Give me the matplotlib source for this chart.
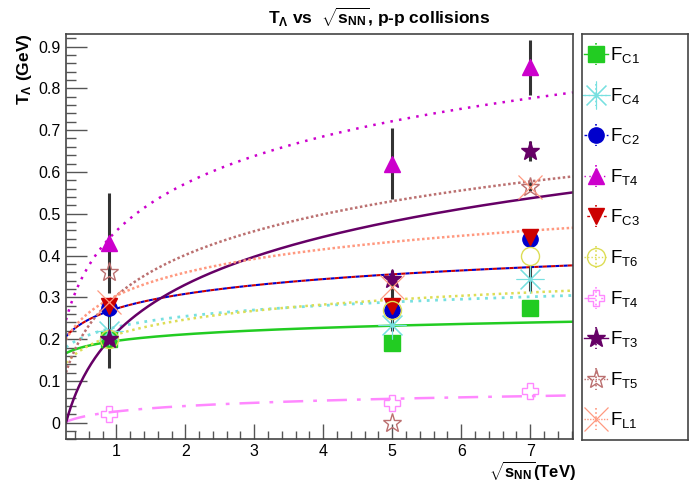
import numpy as np
import matplotlib
matplotlib.use("Agg")
import matplotlib.pyplot as plt
from matplotlib.lines import Line2D

plt.rcParams["font.family"] = ["Liberation Sans", "DejaVu Sans"]
plt.rcParams["mathtext.fontset"] = "custom"
plt.rcParams["mathtext.rm"] = "Liberation Sans"
plt.rcParams["mathtext.it"] = "Liberation Sans"
plt.rcParams["mathtext.bf"] = "Liberation Sans:bold"

# sqrt(s_NN) in TeV
energies = [0.9, 5.0, 7.0]

# temperature parameter T_Lambda (GeV) per fit model
fc1 = [0.200, 0.190, 0.275]
fc4 = [0.220, 0.235, 0.345]
fc2 = [0.275, 0.270, 0.440]
ft4 = [0.430, 0.620, 0.850]
fc3 = [0.280, 0.280, 0.445]
ft6 = [0.200, 0.270, 0.400]
ft4b = [0.020, 0.048, 0.075]
ft3 = [0.200, 0.345, 0.650]
ft5 = [0.360, 0.000, 0.565]
fl1 = [0.290, 0.325, 0.565]

ft4_err = [0.120, 0.085, 0.065]
ft3_err = [0.070, 0.015, 0.025]
fl1_err = [0.000, 0.040, 0.010]
fc4_err = [0.000, 0.015, 0.030]

# log fits: T = a + b*ln(sqrt(s))
fit_a = [0.196, 0.229, 0.273, 0.459, 0.273, 0.211, 0.027, 0.216, 0.304, 0.304]
fit_b = [0.0225, 0.0372, 0.051, 0.163, 0.051, 0.0518, 0.0189, 0.165, 0.1405, 0.080]

labels = [r"$\mathrm{F_{C1}}$", r"$\mathrm{F_{C4}}$", r"$\mathrm{F_{C2}}$", r"$\mathrm{F_{T4}}$",
          r"$\mathrm{F_{C3}}$", r"$\mathrm{F_{T6}}$", r"$\mathrm{F_{T4}}$", r"$\mathrm{F_{T3}}$",
          r"$\mathrm{F_{T5}}$", r"$\mathrm{F_{L1}}$"]

values = [fc1, fc4, fc2, ft4, fc3, ft6, ft4b, ft3, ft5, fl1]
errors = [None, fc4_err, None, ft4_err, None, None, None, ft3_err, None, fl1_err]

colors = ["#22cc22", "#77e0e0", "#0000cc", "#cc00cc", "#cc0000",
          "#dddd55", "#ff88ff", "#660066", "#bb7070", "#ff9980"]
markers = ["s", (8, 2, 0), "o", "^", "v", "o", "P", "*", "*", "x"]
msizes = [11, 20, 11, 12, 12, 13, 12, 14, 14, 17]
filled = [True, True, True, True, True, False, False, True, False, True]
mew = [1, 0.8, 1, 1, 1, 1, 1, 1, 1, 0.9]
linestyles = ["-", (0, (1, 2)), (0, (2, 2)), (0, (1, 2.5)), (2, (2, 2)),
              (0, (1, 1.5)), (0, (8, 4, 1.5, 4)), "-", (0, (1, 1)), (0, (1, 1))]
linewidths = [1.8, 2.0, 1.5, 1.8, 1.5, 1.8, 1.8, 1.8, 1.8, 1.8]

fig = plt.figure(figsize=(6.99, 4.82), dpi=100)
ax = fig.add_axes([0.0944, 0.0882, 0.7253, 0.8413])

x_lo, x_hi = 0.27, 7.62
xs = np.linspace(x_lo, x_hi, 400)

for i in range(len(values)):
    ax.plot(xs, fit_a[i] + fit_b[i] * np.log(xs), color=colors[i],
            ls=linestyles[i], lw=linewidths[i], zorder=2)

for i in range(len(values)):
    if errors[i] is not None:
        ax.errorbar(energies, values[i], yerr=errors[i], fmt="none",
                    ecolor="#333333", elinewidth=2.2, capsize=0, zorder=3)
    fc = colors[i] if filled[i] else "none"
    ax.plot(energies, values[i], ls="none", marker=markers[i], ms=msizes[i],
            mfc=fc, mec=colors[i], mew=mew[i], zorder=4 + i)

ax.set_xlim(x_lo, x_hi)
ax.set_ylim(-0.04, 0.93)
ax.set_xticks(range(1, 8))
ax.set_xticks(np.arange(0.4, 7.61, 0.2), minor=True)
ax.set_yticks(np.arange(0, 0.91, 0.1))
ax.set_yticks(np.arange(-0.04, 0.93, 0.02), minor=True)
ax.set_yticklabels(["0"] + [f"{v:.1f}" for v in np.arange(0.1, 0.91, 0.1)])
ax.tick_params(axis="both", which="both", direction="in", labelsize=11.5,
               color="#555555", top=False, right=False)
ax.tick_params(axis="x", which="major", length=11, width=1, pad=3)
ax.tick_params(axis="x", which="minor", length=5.5, width=1)
ax.tick_params(axis="y", which="major", length=15, width=1, pad=4)
ax.tick_params(axis="y", which="minor", length=7.5, width=1)
for sp in ax.spines.values():
    sp.set_color("#444444")
    sp.set_linewidth(1.2)

fig.text(0.542, 0.965, r"$\mathbf{T_{\Lambda}}$ vs  $\sqrt{\mathbf{s_{NN}}}$, p-p collisions",
         ha="center", va="center", fontsize=12.5, fontweight="bold")
fig.text(25 / 699, 1 - 33 / 482, r"$\mathbf{T_{\Lambda}}$ (GeV)", rotation=90,
         ha="center", va="top", fontsize=12.5, fontweight="bold")
fig.text(576 / 699, 1 - 471 / 482, r"$\sqrt{\mathbf{s_{NN}}}$(TeV)",
         ha="right", va="center", fontsize=12, fontweight="bold")

# legend panel
lax = fig.add_axes([582 / 699, 1 - 440 / 482, 106 / 699, 406 / 482])
lax.set_xlim(0, 106)
lax.set_ylim(406, 0)
lax.set_xticks([])
lax.set_yticks([])
for sp in lax.spines.values():
    sp.set_color("#444444")
    sp.set_linewidth(1.2)

for i in range(len(values)):
    yc = 20 + i * 40.6
    lax.add_line(Line2D([2, 26], [yc, yc], color=colors[i], ls=linestyles[i], lw=1.0))
    lax.add_line(Line2D([14, 14], [yc - 11, yc + 11], color=colors[i], lw=1.2,
                        ls=(0, (1, 1.5))))
    fc = colors[i] if filled[i] else "none"
    lax.plot([14], [yc], marker=markers[i], ms=msizes[i], mfc=fc, mec=colors[i],
             mew=mew[i], ls="none")
    lax.text(28, yc + 1, labels[i], fontsize=13.5, va="center", ha="left")

fig.savefig("out.png", dpi=100)
